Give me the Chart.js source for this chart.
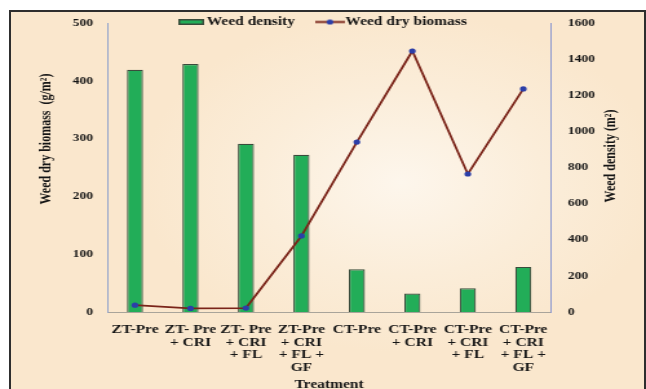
<!DOCTYPE html>
<html>
<head>
<meta charset="utf-8">
<title>Weed density and dry biomass by treatment</title>
<script src="https://cdn.jsdelivr.net/npm/chart.js@4.4.1/dist/chart.umd.min.js"></script>
<style>
  html, body { margin: 0; padding: 0; background: #fff; }
  #frame {
    position: absolute; left: 9px; top: 10px; width: 637px; height: 379px;
    box-sizing: border-box; border: 2px solid #2e2e2e; border-bottom: none;
    background: radial-gradient(ellipse 260px 170px at 390px 170px, #fdf6ec 0%, #fbedd9 55%, #fae7cd 100%);
  }
  #chart { position: absolute; left: 0; top: 0; }
</style>
</head>
<body>
<div id="frame"></div>
<!-- the source figure is a horizontally stretched Excel chart, so the canvas is drawn narrower and stretched by CSS -->
<canvas id="chart" width="500" height="389" style="width:646px;height:389px"></canvas>
<script>
const categories = [
  ['ZT-Pre'],
  ['ZT- Pre', '+ CRI'],
  ['ZT- Pre', '+ CRI', '+ FL'],
  ['ZT-Pre', '+ CRI', '+ FL +', 'GF'],
  ['CT-Pre'],
  ['CT-Pre', '+ CRI'],
  ['CT-Pre', '+ CRI', '+ FL'],
  ['CT-Pre', '+ CRI', '+ FL +', 'GF'],
];
const weedDensity = [419, 429, 291, 272, 74, 32, 41, 78];
const weedDryBiomass = [38, 20, 22, 421, 941, 1445, 764, 1235];
const leftTicks = [0, 100, 200, 300, 400, 500];
const rightTicks = [0, 200, 400, 600, 800, 1000, 1200, 1400, 1600];

const LEFT_TITLE = 'Weed dry biomass  (g/m\u00B2)';
const RIGHT_TITLE = 'Weed density (m\u00B2)';
const X_TITLE = 'Treatment';

const SERIF = '"Liberation Serif", "Times New Roman", serif';
const INK = '#151515';
const BAR_FILL = '#22ad58';
const BAR_EDGE = '#3a4c3c';
const LINE_COLOR = '#7a2419';
const DOT_COLOR = '#2b3ea8';

// legend font 12px, labels.padding 21, +10 bottom pad that Chart.js adds => 43px tall
const LEGEND_HEIGHT = 43;
const PLOT_TOP = 23;

function barIcon() {
  const c = document.createElement('canvas');
  c.width = 20; c.height = 6;
  const g = c.getContext('2d');
  g.fillStyle = BAR_EDGE;
  g.fillRect(0, 0, 20, 6);
  g.fillStyle = BAR_FILL;
  g.fillRect(1.5, 1.5, 17, 3);
  return c;
}

function lineIcon() {
  const c = document.createElement('canvas');
  c.width = 23; c.height = 7;
  const g = c.getContext('2d');
  g.strokeStyle = LINE_COLOR;
  g.lineWidth = 2;
  g.beginPath(); g.moveTo(0, 3.5); g.lineTo(23, 3.5); g.stroke();
  g.fillStyle = DOT_COLOR;
  g.beginPath(); g.arc(11.5, 3.5, 2.6, 0, Math.PI * 2); g.fill();
  return c;
}

const legendIcons = [barIcon(), lineIcon()];

// legend sits inside the plot, level with the top tick, like the original
const legendPlacement = {
  id: 'legendPlacement',
  afterLayout(chart) {
    const lg = chart.legend;
    const pad = lg.options.labels.padding;
    lg.left = 142 - pad;
    lg.top = 16 - pad;
    lg.bottom = lg.top + lg.height; // legend clips to its own box
  },
};

// both value-axis titles read bottom-to-top in the source
const valueAxisTitles = {
  id: 'valueAxisTitles',
  afterDraw(chart) {
    const ctx = chart.ctx;
    ctx.save();
    ctx.font = `bold 12px ${SERIF}`;
    ctx.fillStyle = INK;
    ctx.textAlign = 'center';
    ctx.textBaseline = 'middle';
    for (const [text, x, y] of [[LEFT_TITLE, 36, 139], [RIGHT_TITLE, 473, 156]]) {
      ctx.save();
      ctx.translate(x, y);
      ctx.rotate(-Math.PI / 2);
      ctx.fillText(text, 0, 0);
      ctx.restore();
    }
    ctx.restore();
  },
};

const tickFont = { family: SERIF, size: 10.5, weight: 'bold' };
const plainNumber = (v) => String(v);

new Chart(document.getElementById('chart'), {
  data: {
    labels: categories,
    datasets: [
      {
        type: 'bar',
        label: 'Weed density',
        data: weedDensity,
        yAxisID: 'y',
        order: 1,
        backgroundColor: BAR_FILL,
        borderColor: BAR_EDGE,
        borderWidth: 1.2,
        barPercentage: 0.29,
        categoryPercentage: 1,
      },
      {
        type: 'line',
        label: 'Weed dry biomass',
        data: weedDryBiomass,
        yAxisID: 'y1',
        order: 0,
        borderColor: LINE_COLOR,
        borderWidth: 1.8,
        tension: 0,
        pointRadius: 2.6,
        pointBackgroundColor: DOT_COLOR,
        pointBorderColor: DOT_COLOR,
        pointBorderWidth: 0,
      },
    ],
  },
  options: {
    responsive: false,
    animation: false,
    devicePixelRatio: 1,
    layout: { padding: { top: PLOT_TOP - LEGEND_HEIGHT, left: 0, right: 0, bottom: 0 } },
    plugins: {
      tooltip: { enabled: false },
      legend: {
        position: 'top',
        align: 'start',
        labels: {
          usePointStyle: true,
          pointStyleWidth: 12,
          padding: 21,
          color: INK,
          font: { family: SERIF, size: 12, weight: 'bold' },
          sort: (a, b) => a.datasetIndex - b.datasetIndex,
          generateLabels(chart) {
            const items = Chart.defaults.plugins.legend.labels.generateLabels(chart);
            for (const it of items) it.pointStyle = legendIcons[it.datasetIndex];
            return items;
          },
        },
      },
    },
    scales: {
      x: {
        grid: { display: false, drawTicks: false },
        border: { display: true, color: '#a9a49a', width: 1 },
        ticks: {
          color: INK,
          font: { family: SERIF, size: 12, weight: 'bold', lineHeight: 1.08 },
          padding: 11,
          autoSkip: false,
          maxRotation: 0,
          minRotation: 0,
        },
        title: {
          display: true,
          text: X_TITLE,
          color: INK,
          font: { family: SERIF, size: 12, weight: 'bold', lineHeight: 0.65 },
          padding: { top: 0, bottom: 0 },
        },
        afterFit(scale) { scale.height = 77; },
      },
      y: {
        position: 'left',
        min: leftTicks[0],
        max: leftTicks[leftTicks.length - 1],
        grid: { display: false, drawTicks: false },
        border: { display: true, color: '#93a5cc', width: 1 },
        ticks: { stepSize: leftTicks[1] - leftTicks[0], color: INK, font: tickFont, padding: 11, callback: plainNumber },
        afterFit(scale) { scale.width = 83; },
      },
      y1: {
        position: 'right',
        min: rightTicks[0],
        max: rightTicks[rightTicks.length - 1],
        grid: { display: false, drawTicks: false },
        border: { display: true, color: '#8e99cf', width: 1 },
        ticks: { stepSize: rightTicks[1] - rightTicks[0], color: INK, font: tickFont, padding: 13, callback: plainNumber },
        afterFit(scale) { scale.width = 73.5; },
      },
    },
  },
  plugins: [legendPlacement, valueAxisTitles],
});
</script>
</body>
</html>
